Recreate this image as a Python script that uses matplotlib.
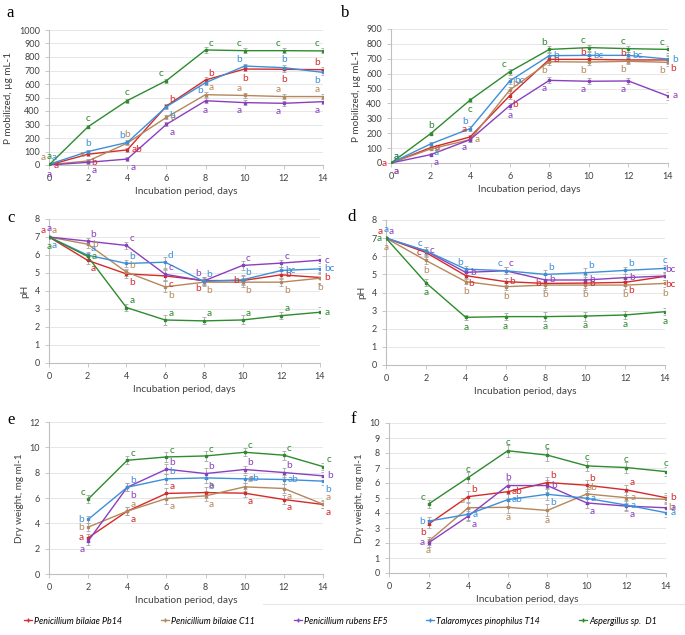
import matplotlib
matplotlib.use("Agg")
import matplotlib.pyplot as plt  # noqa: E402
from matplotlib.lines import Line2D  # noqa: E402

plt.rcParams["font.family"] = ["Lato", "DejaVu Sans"]

# series names and colours
names = ["Penicillium bilaiae Pb14", "Penicillium bilaiae C11", "Penicillium rubens EF5",
         "Talaromyces pinophilus T14", "Aspergillus sp.  D1"]
colors = ["#D42A2A", "#B5875A", "#8A3FBF", "#3D8FD9", "#2E8B2E"]

days_full = [0, 2, 4, 6, 8, 10, 12, 14]
days_dw = [2, 4, 6, 8, 10, 12, 14]

# panel a: P mobilized
a_vals = [[0, 80, 112, 437, 630, 711, 709, 706],
          [3, 30, 162, 353, 521, 515, 507, 507],
          [0, 20, 44, 301, 476, 462, 457, 469],
          [5, 100, 167, 432, 610, 733, 721, 686],
          [0, 284, 477, 625, 852, 847, 847, 845]]
a_err = [5, 12, 15, 15, 20, 18, 18, 18]
a_let = ["a b ab b b b b b", "a a b a a a a a", "a a a a a a a a",
         "a b b b b b b b", "a c c c c c c c"]
a_pos = ["r dr r ur ur d d ul", "ul ul u r ur ul ul ul", "d dr dr dr d dl dl dl",
         "ur u ul dr dl ul u dl", "u u u ul ur ul ul ul"]

# panel b: P mobilized
b_vals = [[0, 103, 175, 452, 696, 696, 692, 692],
          [0, 94, 157, 490, 680, 678, 683, 676],
          [0, 56, 157, 385, 555, 549, 551, 450],
          [0, 128, 231, 551, 721, 723, 723, 698],
          [0, 197, 423, 613, 763, 775, 768, 763]]
b_err = [5, 10, 15, 20, 20, 20, 20, 25]
b_let = ["a a a b b b b b", "a a a b b b b b", "a a a a a a a a",
         "a a b bc b bc bc b", "a b c c b c c c"]
b_pos = ["l r ul dr r ul ul dr", "dr r r ur dl dl dl dl", "dr dr dl d dl dl dl r",
         "ur dr ul r r r r r", "ur u d ul ul ul ul ul"]

# panel c: pH
c_vals = [[7.0, 5.70, 4.95, 4.84, 4.58, 4.58, 4.90, 4.75],
          [7.0, 6.60, 5.05, 4.23, 4.49, 4.49, 4.49, 4.71],
          [7.0, 6.77, 6.53, 4.93, 4.56, 5.42, 5.55, 5.71],
          [7.0, 5.99, 5.53, 5.60, 4.53, 4.62, 5.14, 5.23],
          [7.0, 5.92, 3.08, 2.39, 2.34, 2.39, 2.63, 2.82]]
c_err = [0.05, 0.2, 0.2, 0.3, 0.2, 0.25, 0.2, 0.3]
c_let = ["a a b c b b b b", "a b b b b b b b", "a b c c b c c c",
         "a a b d b b bc bc", "a a a a a a a a"]
c_pos = ["ul dr dr dr dl l r r", "ur r ur dr dr dr dr d", "u ur ur ur ul ur ur r",
         "dr ur ur ur ur ur r r", "d r ur ur ur ur ur r"]

# panel d: pH
d_vals = [[7.0, 6.21, 4.93, 4.60, 4.50, 4.52, 4.56, 4.89],
          [7.0, 5.77, 4.60, 4.32, 4.41, 4.41, 4.41, 4.50],
          [7.0, 6.29, 5.11, 5.20, 4.69, 4.69, 4.82, 4.91],
          [7.0, 6.30, 5.29, 5.20, 5.00, 5.09, 5.22, 5.33],
          [7.0, 4.54, 2.63, 2.67, 2.67, 2.70, 2.76, 2.94]]
d_err = [0.05, 0.2, 0.15, 0.2, 0.25, 0.25, 0.2, 0.2]
d_let = ["a c b b b b b bc", "a b b b b b b b", "a c b c b b b bc",
         "a c b c b b b c", "a a a a a a a a"]
d_pos = ["ul l dr r l r dr dr", "d d d d d d d d", "ur r r ur r r r ur",
         "u ul ul ul ur ur ur u", "l d d d d d d d"]

# panel e: dry weight
e_vals = [[2.86, 4.96, 6.36, 6.43, 6.38, 5.88, 5.49],
          [3.70, 4.96, 5.96, 6.17, 6.88, 6.75, 5.51],
          [2.60, 6.85, 8.27, 7.93, 8.25, 8.01, 7.75],
          [4.31, 6.85, 7.51, 7.59, 7.51, 7.46, 7.33],
          [5.91, 8.98, 9.24, 9.32, 9.61, 9.38, 8.48]]
e_err = [0.3, 0.3, 0.4, 0.4, 0.3, 0.35, 0.3]
e_let = ["a a a a a a a", "b a a a a a a", "a b b b b b b",
         "b b b b ab ab b", "c c c c c c c"]
e_pos = ["l dr ur ur dr dr dr", "l ur dr dr ur dr ur", "dl dr ur ur ur ur r",
         "l ur ur dr r r dr", "ul ur ur ur ur ur ur"]

# panel f: dry weight
f_vals = [[3.26, 5.09, 5.42, 6.03, 5.85, 5.54, 5.02],
          [2.12, 4.35, 4.38, 4.17, 5.27, 5.02, 4.91],
          [2.01, 3.79, 5.83, 5.83, 4.67, 4.46, 4.35],
          [3.46, 3.91, 4.89, 5.25, 4.98, 4.53, 4.02],
          [4.60, 6.36, 8.15, 7.86, 7.14, 7.03, 6.76]]
f_err = [0.25, 0.35, 0.4, 0.4, 0.35, 0.35, 0.3]
f_let = ["b b ab b b a b", "a a a a ab a b", "a a b b a a a",
         "b a ab b a a a", "c c c c c c c"]
f_pos = ["dl ur r ur ur ur r", "d ul d d ur r dr", "l dr u r dr dr r",
         "l r r dr r r r", "ul u u u u u u"]

OFFS = {"u": (0, 6), "d": (0, -7), "r": (3, 0), "l": (-3, 0),
        "ur": (4, 5), "ul": (-4, 5), "dr": (4, -6), "dl": (-4, -6)}

W, H = 685, 635
fig = plt.figure(figsize=(W / 100, H / 100), dpi=100)


def px_axes(left, right, top, bottom):
    return fig.add_axes([left / W, 1 - bottom / H, (right - left) / W, (bottom - top) / H])


def panel(ax, xs, vals, err, lets, poss, ymax, ystep, ylabel):
    for i in range(len(vals)):
        ax.errorbar(xs, vals[i], yerr=err, color=colors[i], ecolor="#A6A6A6",
                    elinewidth=0.6, capsize=1.5, capthick=0.6, lw=1.0,
                    marker="s", ms=1.6, zorder=3)
        for x, y, t, p in zip(xs, vals[i], lets[i].split(), poss[i].split()):
            dx, dy = OFFS[p]
            ha = "left" if p == "r" else "right" if p == "l" else "center"
            ax.annotate(t, (x, y), xytext=(dx, dy), textcoords="offset points",
                        ha=ha, va="center", fontsize=7.2, color=colors[i], zorder=4)
    ax.set_xlim(0, 14)
    ax.set_ylim(0, ymax)
    ax.set_xticks(range(0, 15, 2))
    ax.set_yticks([v * ystep for v in range(int(round(ymax / ystep)) + 1)])
    ax.grid(axis="y", color="#E3E3E3", lw=0.6)
    ax.set_axisbelow(True)
    for s in ["top", "right"]:
        ax.spines[s].set_visible(False)
    for s in ["left", "bottom"]:
        ax.spines[s].set_color("#BFBFBF")
    ax.tick_params(colors="#BFBFBF", labelcolor="#404040", labelsize=6.5, length=3, width=0.6)
    ax.set_xlabel("Incubation period, days", fontsize=7.2, color="#404040", labelpad=3)
    ax.set_ylabel(ylabel, fontsize=7.2, color="#404040", labelpad=4)


ax_a = px_axes(49, 323, 30, 165)
panel(ax_a, days_full, a_vals, a_err, a_let, a_pos, 1000, 100, "P mobilized, µg mL-1")
ax_b = px_axes(391, 668, 29, 163)
panel(ax_b, days_full, b_vals, b_err, b_let, b_pos, 900, 100, "P mobilized, µg mL-1")
ax_c = px_axes(49, 320, 219, 363)
panel(ax_c, days_full, c_vals, c_err, c_let, c_pos, 8, 1, "pH")
ax_d = px_axes(386, 665, 220, 365)
panel(ax_d, days_full, d_vals, d_err, d_let, d_pos, 8, 1, "pH")
ax_e = px_axes(49, 323, 422, 574)
panel(ax_e, days_dw, e_vals, e_err, e_let, e_pos, 12, 2, "Dry weight, mg ml-1")
ax_f = px_axes(389, 666, 423, 573)
panel(ax_f, days_dw, f_vals, f_err, f_let, f_pos, 10, 1, "Dry weight, mg ml-1")

for lab, x, y in [("a", 10, 13), ("b", 345, 13), ("c", 11, 218),
                  ("d", 352, 217), ("e", 11, 420), ("f", 353, 419)]:
    fig.text(x / W, 1 - y / H, lab, family="Liberation Serif", fontsize=12,
             ha="center", va="center")

fig.add_artist(Line2D([263 / W, 1], [1 - 604 / H, 1 - 604 / H], color="#E6E6E6", lw=0.8))

handles = [Line2D([], [], color=c, marker="+", ms=3, lw=0.9) for c in colors]
fig.legend(handles, names, loc="center", bbox_to_anchor=(0.497, 1 - 621 / H), ncol=5,
           frameon=False, prop={"style": "italic", "size": 6.4}, handlelength=0.9,
           handletextpad=0.2, columnspacing=4.4)

fig.savefig("out.png", dpi=100)
